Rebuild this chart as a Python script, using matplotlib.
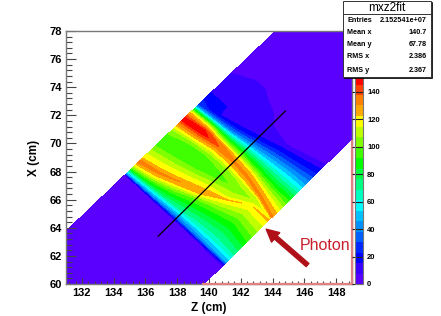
import matplotlib
matplotlib.use('Agg')
import matplotlib.pyplot as plt
from matplotlib.colors import ListedColormap, BoundaryNorm
from matplotlib.patches import Rectangle
import numpy as np

plt.rcParams['font.family'] = ['Liberation Sans', 'DejaVu Sans']

W, H = 441, 316

# depth from the photon edge (0) to the far edge (1)
depth_pos = [0.0, 0.17, 0.33, 0.5, 0.67, 0.83, 1.0]

# position across the band of each traced feature, one row per feature
stripe_pos = [
    [-1.5, -1.5, -1.5, -1.5, -1.5, -1.5, -1.5],
    [-0.1, -0.1, -0.1, -0.1, -0.1, -0.1, -0.1],
    [0.0, 0.0, 0.0, 0.0, 0.0, 0.0, 0.0],
    [0.03, 0.03, 0.03, 0.03, 0.03, 0.03, 0.03],
    [0.1, 0.1, 0.1, 0.1, 0.1, 0.1, 0.1],
    [0.25, 0.28, 0.27, 0.25, 0.2, 0.16, 0.14],
    [0.41, 0.42, 0.36, 0.3, 0.25, 0.2, 0.17],
    [0.44, 0.46, 0.39, 0.33, 0.28, 0.23, 0.2],    # lower ridge
    [0.445, 0.475, 0.42, 0.36, 0.31, 0.26, 0.23],
    [0.455, 0.5, 0.5, 0.5, 0.49, 0.48, 0.47],     # valley
    [0.465, 0.525, 0.56, 0.59, 0.61, 0.625, 0.63],
    [0.468, 0.54, 0.595, 0.65, 0.7, 0.745, 0.765],
    [0.47, 0.55, 0.62, 0.68, 0.73, 0.77, 0.79],   # upper ridge
    [0.5, 0.57, 0.65, 0.71, 0.76, 0.8, 0.82],
    [0.62, 0.68, 0.72, 0.78, 0.83, 0.87, 0.9],
    [0.78, 0.8, 0.83, 0.87, 0.9, 0.93, 0.95],
    [0.9, 0.9, 0.92, 0.93, 0.95, 0.97, 0.97],
    [1.0, 1.0, 1.0, 1.0, 1.0, 1.0, 1.0],
    [1.1, 1.1, 1.1, 1.1, 1.1, 1.1, 1.1],
    [1.2, 1.2, 1.2, 1.2, 1.2, 1.2, 1.2],
    [1.4, 1.4, 1.4, 1.4, 1.4, 1.4, 1.4],
    [1.5, 1.5, 1.5, 1.5, 1.5, 1.5, 1.5],
    [2.2, 2.2, 2.2, 2.2, 2.2, 2.2, 2.2],
]

# counts along each feature
counts = [
    [1, 1, 1, 1, 1, 1, 1],
    [2, 2, 2, 2, 2, 2, 2],
    [8, 8, 6, 5, 5, 5, 5],
    [45, 42, 38, 35, 38, 40, 45],
    [68, 65, 65, 68, 75, 85, 100],
    [95, 92, 95, 100, 105, 112, 118],
    [118, 115, 116, 122, 124, 126, 128],
    [125, 122, 123, 127, 130, 132, 136],
    [122, 115, 112, 122, 123, 124, 124],
    [120, 108, 102, 95, 92, 92, 92],
    [124, 115, 110, 104, 100, 100, 102],
    [128, 126, 125, 125, 128, 142, 140],
    [132, 132, 132, 132, 138, 150, 150],
    [126, 128, 126, 126, 132, 146, 146],
    [95, 88, 92, 90, 88, 105, 120],
    [48, 52, 50, 45, 40, 45, 75],
    [22, 25, 25, 24, 22, 25, 50],
    [6, 7, 8, 10, 12, 15, 30],
    [3, 4, 5, 8, 12, 15, 20],
    [3, 3, 4, 6, 12, 14, 14],
    [2, 2, 2, 3, 5, 12, 12],
    [2, 2, 2, 2, 3, 4, 4],
    [1, 1, 1, 1, 1, 1, 1],
]

# band corners (z, x): far edge and photon edge at stripe 0 and stripe 1
far_0, far_1 = (134.71, 67.75), (139.32, 72.73)
near_0, near_1 = (140.89, 61.35), (147.40, 68.58)

band_colors = ['#5a00ff', '#3a00ff', '#0000ff', '#0028ff', '#0060ff', '#0090ff', '#00c0ff', '#00ffff',
               '#00ffc0', '#00ff80', '#00ff40', '#00ff00', '#40ff00', '#80ff00', '#c0ff00', '#ffff00',
               '#ffa800', '#ff8000', '#ff4000', '#ff0000']
levels = [7.65 * i for i in range(21)]
bar_ticks = [0, 20, 40, 60, 80, 100, 120, 140]

stats_names = ['Entries', 'Mean x', 'Mean y', 'RMS x', 'RMS y']
stats_values = ['2.152541e+07', '140.7', '67.78', '2.386', '2.367']
stats_rows = [20, 32, 45, 57, 70]

GREY = '#777777'
PINK = '#e08080'


def box(left, top, right, bottom):
    return [left / W, 1 - bottom / H, (right - left) / W, (bottom - top) / H]


t = np.array(stripe_pos)
d = np.array(depth_pos)[None, :]
far_z = far_0[0] + (far_1[0] - far_0[0]) * t
far_x = far_0[1] + (far_1[1] - far_0[1]) * t
near_z = near_0[0] + (near_1[0] - near_0[0]) * t
near_x = near_0[1] + (near_1[1] - near_0[1]) * t
Z = (1 - d) * near_z + d * far_z
X = (1 - d) * near_x + d * far_x

fig = plt.figure(figsize=(W / 100, H / 100), dpi=100)
ax = fig.add_axes(box(66, 31, 352, 284))
cmap = ListedColormap(band_colors)
norm = BoundaryNorm(levels, cmap.N)
cs = ax.contourf(Z, X, np.array(counts), levels=levels, cmap=cmap, norm=norm, zorder=1)

ax.set_xlim(131, 149)
ax.set_ylim(60, 78)
ax.set_xticks(range(132, 149, 2))
ax.set_yticks(range(60, 79, 2))
ax.set_xticks(np.arange(131.2, 149, 0.4), minor=True)
ax.set_yticks(np.arange(60, 78.1, 0.4), minor=True)
ax.tick_params(axis='x', which='major', direction='in', length=4.3, width=0.8, color='#444444', labelsize=8, pad=3)
ax.tick_params(axis='x', which='minor', direction='in', length=2.2, width=0.8, color='#444444')
ax.tick_params(axis='y', which='major', direction='in', length=7, width=0.8, color='#444444', labelsize=8, pad=3)
ax.tick_params(axis='y', which='minor', direction='in', length=4.3, width=0.8, color='#444444')
for lab in ax.get_xticklabels() + ax.get_yticklabels():
    lab.set_fontweight('bold')
ax.set_xlabel('Z (cm)', fontsize=8.5, fontweight='bold', labelpad=3)
ax.set_ylabel('X (cm)', fontsize=8.5, fontweight='bold', labelpad=7)
for sp in ax.spines.values():
    sp.set_color(GREY)
    sp.set_linewidth(1)

# pink edge where the frame shows against the empty corner
ax.plot([139.6, 149, 149], [60, 60, 70.2], color=PINK, lw=1.6, clip_on=False, zorder=4)

ax.plot([136.8, 144.8], [63.4, 72.3], color='black', lw=0.9, zorder=5)
ax.annotate('', xy=(143.6, 63.9), xytext=(146.2, 61.35), zorder=5,
            arrowprops=dict(facecolor='#b01018', edgecolor='#b01018', width=3, headwidth=9, headlength=9, shrink=0))
ax.text(147.28, 62.73, 'Photon', color='#c8202c', fontsize=11.5, ha='center', va='center', zorder=5)

cax = fig.add_axes(box(355, 74, 363, 284))
cb = fig.colorbar(cs, cax=cax, ticks=bar_ticks, drawedges=False, spacing='proportional')
cb.minorticks_off()
cb.outline.set_edgecolor(GREY)
cax.tick_params(direction='in', length=8, width=0.8, color='#222222', labelsize=5.5, pad=3)
for lab in cax.get_yticklabels():
    lab.set_fontweight('bold')

# stats box
fig.add_artist(Rectangle((344 / W, 1 - 78 / H), 88 / W, 76 / H, transform=fig.transFigure, fc='black', ec='black', lw=0.5, zorder=10))
fig.add_artist(Rectangle((343 / W, 1 - 77 / H), 88 / W, 76 / H, transform=fig.transFigure, fc='white', ec='#333333', lw=0.7, zorder=11))
fig.add_artist(plt.Line2D([343 / W, 431 / W], [1 - 14 / H, 1 - 14 / H], color='#333333', lw=0.7, zorder=12))
fig.text(387 / W, 1 - 8 / H, 'mxz2fit', fontsize=8.5, ha='center', va='center', zorder=12)
for name, val, row in zip(stats_names, stats_values, stats_rows):
    y = 1 - row / H
    fig.text(347 / W, y, name, fontsize=5.2, fontweight='bold', va='center', zorder=12)
    fig.text(427 / W, y, val, fontsize=5.2, fontweight='bold', ha='right', va='center', zorder=12)

fig.savefig('out.png', dpi=100)
plt.close(fig)
